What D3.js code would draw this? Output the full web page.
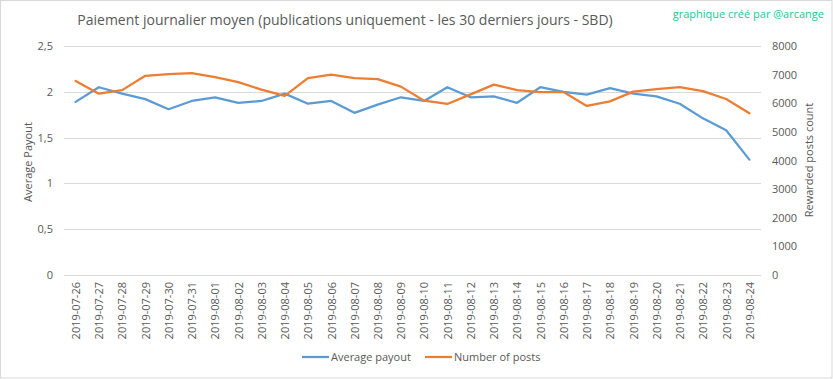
<!DOCTYPE html>
<html>
<head>
<meta charset="utf-8">
<script src="https://cdn.jsdelivr.net/npm/d3@7"></script>
<style>
  body { margin: 0; background: #fff; }
  text { font-family: "Open Sans", "DejaVu Sans", sans-serif; fill: #595959; }
</style>
</head>
<body>
<script>
var dates = ["2019-07-26","2019-07-27","2019-07-28","2019-07-29","2019-07-30","2019-07-31",
  "2019-08-01","2019-08-02","2019-08-03","2019-08-04","2019-08-05","2019-08-06","2019-08-07",
  "2019-08-08","2019-08-09","2019-08-10","2019-08-11","2019-08-12","2019-08-13","2019-08-14",
  "2019-08-15","2019-08-16","2019-08-17","2019-08-18","2019-08-19","2019-08-20","2019-08-21",
  "2019-08-22","2019-08-23","2019-08-24"];
var avgPayout = [1.89,2.05,1.98,1.92,1.81,1.90,1.94,1.88,1.90,1.98,1.87,1.90,1.77,1.86,1.94,
  1.90,2.05,1.94,1.95,1.88,2.05,2.00,1.97,2.04,1.98,1.95,1.87,1.71,1.58,1.26];
var numPosts = [6780,6335,6460,6960,7020,7055,6915,6740,6475,6255,6880,7000,6880,6845,6580,
  6090,5975,6310,6650,6460,6390,6390,5905,6065,6405,6495,6565,6425,6150,5650];
var leftTicks = [0,0.5,1,1.5,2,2.5];
var rightTicks = [0,1000,2000,3000,4000,5000,6000,7000,8000];

var width = 833, height = 379;
var plot = {left:64, right:761, top:46, bottom:275};

var svg = d3.select("body").append("svg").attr("width", width).attr("height", height);

svg.append("rect")
  .attr("x", 0.5).attr("y", 0.5)
  .attr("width", width - 1.5).attr("height", height - 1.5)
  .style("fill", "#fff").style("stroke", "#d9d9d9");

var x = d3.scalePoint().domain(dates).range([plot.left, plot.right]).padding(0.5);
var yL = d3.scaleLinear().domain([0, 2.5]).range([plot.bottom, plot.top]);
var yR = d3.scaleLinear().domain([0, 8000]).range([plot.bottom, plot.top]);

// gridlines
svg.append("g").selectAll("line").data(leftTicks).enter().append("line")
  .attr("x1", plot.left).attr("x2", plot.right)
  .attr("y1", function(d) { return Math.round(yL(d)) + 0.5; })
  .attr("y2", function(d) { return Math.round(yL(d)) + 0.5; })
  .style("stroke", "#d9d9d9").style("stroke-width", 1);

// left axis
var leftAxis = svg.append("g")
  .attr("transform", "translate(" + (plot.left - 11) + ",0)")
  .call(d3.axisLeft(yL).tickValues(leftTicks).tickSize(0).tickPadding(0)
    .tickFormat(function(d) { return String(d).replace(".", ","); }));
leftAxis.select(".domain").remove();
leftAxis.selectAll("text").style("font-size", "11px").style("fill", "#595959");

// right axis
var rightAxis = svg.append("g")
  .attr("transform", "translate(" + (plot.right + 11) + ",0)")
  .call(d3.axisRight(yR).tickValues(rightTicks).tickSize(0).tickPadding(0)
    .tickFormat(function(d) { return String(d); }));
rightAxis.select(".domain").remove();
rightAxis.selectAll("text").style("font-size", "11px").style("fill", "#595959");

// x axis labels
var xAxis = svg.append("g")
  .attr("transform", "translate(0," + (plot.bottom + 7) + ")")
  .call(d3.axisBottom(x).tickSize(0).tickPadding(0));
xAxis.select(".domain").remove();
xAxis.selectAll("text")
  .style("font-size", "11px").style("fill", "#595959")
  .style("text-anchor", "end")
  .attr("dx", 0).attr("dy", "0.35em").attr("y", 0)
  .attr("transform", "rotate(-90)");

// lines
var payoutLine = d3.line()
  .x(function(d, i) { return x(dates[i]); })
  .y(function(d) { return yL(d); });
var postsLine = d3.line()
  .x(function(d, i) { return x(dates[i]); })
  .y(function(d) { return yR(d); });

svg.append("path").datum(avgPayout)
  .attr("d", payoutLine)
  .style("fill", "none").style("stroke", "#5b9bd5")
  .style("stroke-width", 2.25).style("stroke-linejoin", "round").style("stroke-linecap", "round");
svg.append("path").datum(numPosts)
  .attr("d", postsLine)
  .style("fill", "none").style("stroke", "#ed7d31")
  .style("stroke-width", 2.25).style("stroke-linejoin", "round").style("stroke-linecap", "round");

// titles
svg.append("text")
  .attr("x", 345).attr("y", 25)
  .style("text-anchor", "middle").style("font-size", "14px")
  .text("Paiement journalier moyen (publications uniquement  - les 30 derniers jours - SBD)");

svg.append("text")
  .attr("x", 824).attr("y", 18)
  .style("text-anchor", "end").style("font-size", "11px").style("fill", "#14cc99")
  .text("graphique créé par @arcange");

svg.append("text")
  .attr("transform", "translate(32,162) rotate(-90)")
  .style("text-anchor", "middle").style("font-size", "11px")
  .text("Average Payout");

svg.append("text")
  .attr("transform", "translate(813,160) rotate(-90)")
  .style("text-anchor", "middle").style("font-size", "11px")
  .text("Rewarded posts  count");

// legend
var legendItems = [
  {label: "Average payout", color: "#5b9bd5", x: 302},
  {label: "Number of posts", color: "#ed7d31", x: 425}
];
var legend = svg.append("g").selectAll("g").data(legendItems).enter().append("g");
legend.append("line")
  .attr("x1", function(d) { return d.x; }).attr("x2", function(d) { return d.x + 27; })
  .attr("y1", 357).attr("y2", 357)
  .style("stroke", function(d) { return d.color; }).style("stroke-width", 2.25);
legend.append("text")
  .attr("x", function(d) { return d.x + 29; }).attr("y", 361)
  .style("font-size", "11px")
  .text(function(d) { return d.label; });
</script>
</body>
</html>
